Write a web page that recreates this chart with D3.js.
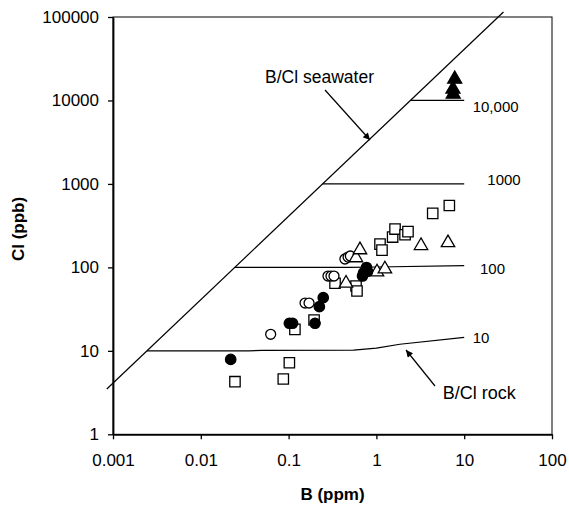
<!DOCTYPE html>
<html>
<head>
  <meta charset="UTF-8">
  <title>B vs Cl</title>
  <script src="https://d3js.org/d3.v7.min.js"></script>
  <style>
    body { margin: 0; background: #fff; }
    text { font-family: "Liberation Sans", Arial, sans-serif; fill: #000; }
  </style>
</head>
<body>
  <svg width="569" height="508"></svg>

  <script>
    // Data: [B (ppm), Cl (ppb)]
    const filledCircles = [
      [0.0219, 7.9], [0.102, 21.4], [0.111, 21.4], [0.200, 21.4],
      [0.224, 33.8], [0.248, 43.3], [0.713, 85.7], [0.771, 99.7],
      [0.792, 89.3], [0.695, 78.8]
    ];
    const openCircles = [
      [0.0625, 15.8], [0.154, 37.4], [0.171, 37.4], [0.281, 78.8],
      [0.304, 78.8], [0.329, 78.8], [0.438, 126], [0.476, 133], [0.505, 137]
    ];
    const openSquares = [
      [0.0245, 4.27], [0.102, 7.2], [0.087, 4.6], [0.118, 18.1],
      [0.195, 23.4], [0.338, 64.5], [0.586, 59.8], [0.601, 52.1],
      [1.099, 190], [1.158, 161], [1.53, 231], [1.63, 288],
      [2.12, 246], [2.29, 268], [4.38, 444], [6.77, 551]
    ];
    const openTriangles = [
      [0.451, 64.5], [0.586, 130], [0.650, 162], [1.016, 88],
      [1.25, 95.7], [3.22, 182], [6.54, 197]
    ];
    const filledTriangles = [
      [7.8, 18000], [7.45, 13700], [7.5, 11900]
    ];

    // Seawater B/Cl line: Cl = k * B
    const seawaterK = 4100;
    const seawaterB = [0.00085, 28];

    // Mixing lines (start on the seawater line)
    const mixLines = [
      { label: "10,000", pts: [[10000 / seawaterK, 10000], [10, 10000]] },
      { label: "1000", pts: [[1000 / seawaterK, 1000], [10, 1000]] },
      { label: "100", pts: [[100 / seawaterK, 100], [0.5, 100], [1, 101], [10, 105]] },
      { label: "10", pts: [[10 / seawaterK, 10], [0.035, 10], [0.05, 10.15], [0.55, 10.2], [1, 10.8], [1.85, 12], [10, 14.5]] }
    ];

    const xTicks = [0.001, 0.01, 0.1, 1, 10, 100];
    const xTickLabels = ["0.001", "0.01", "0.1", "1", "10", "100"];
    const yTicks = [1, 10, 100, 1000, 10000, 100000];

    const margin = { top: 17, right: 17, bottom: 73.7, left: 113 };
    const W = 569, H = 508;
    const width = W - margin.left - margin.right;
    const height = H - margin.top - margin.bottom;

    const svg = d3.select("svg");
    const g = svg.append("g").attr("transform", `translate(${margin.left}, ${margin.top})`);

    const x = d3.scaleLog().domain([0.001, 100]).range([0, width]);
    const y = d3.scaleLog().domain([1, 100000]).range([height, 0]);

    // arrow marker
    svg.append("defs").append("marker")
      .attr("id", "arrow")
      .attr("viewBox", "0 0 10 10")
      .attr("refX", 10).attr("refY", 5)
      .attr("markerWidth", 9).attr("markerHeight", 7)
      .attr("markerUnits", "userSpaceOnUse")
      .attr("orient", "auto")
      .append("path").attr("d", "M0,0 L10,5 L0,10 z").attr("fill", "#000");

    // frame (top / right)
    g.append("rect")
      .attr("width", width).attr("height", height)
      .attr("fill", "none").attr("stroke", "#000").attr("stroke-width", 1);

    // axes
    const xAxis = d3.axisBottom(x).tickValues(xTicks)
      .tickFormat((d, i) => xTickLabels[i]).tickSize(5).tickSizeOuter(0).tickPadding(15);
    const yAxis = d3.axisLeft(y).tickValues(yTicks)
      .tickFormat(d3.format("d")).tickSize(5).tickSizeOuter(0).tickPadding(9);

    const gx = g.append("g").attr("transform", `translate(0, ${height})`).call(xAxis);
    const gy = g.append("g").call(yAxis);
    [gx, gy].forEach(a => {
      a.select(".domain").attr("stroke-width", 1.8);
      a.selectAll(".tick line").attr("stroke-width", 1.3);
      a.selectAll(".tick text").style("font-size", "17px")
        .style("font-family", '"Liberation Sans", Arial, sans-serif');
    });

    const line = d3.line().x(d => x(d[0])).y(d => y(d[1]));

    // seawater line (extends slightly beyond frame)
    g.append("path")
      .datum(seawaterB.map(b => [b, b * seawaterK]))
      .attr("d", line).attr("fill", "none").attr("stroke", "#000").attr("stroke-width", 1.2);

    // mixing lines
    mixLines.forEach(m => {
      g.append("path").datum(m.pts).attr("d", line)
        .attr("fill", "none").attr("stroke", "#000").attr("stroke-width", 1.2);
    });

    // mixing line labels
    const labelPos = {
      "10,000": [359.7, 94.5],
      "1000": [374.3, 168],
      "100": [367, 256.5],
      "10": [359.7, 326]
    };
    mixLines.forEach(m => {
      g.append("text")
        .attr("x", labelPos[m.label][0]).attr("y", labelPos[m.label][1])
        .style("font-size", "15px").text(m.label);
    });

    // annotations
    g.append("text").attr("x", 261).attr("y", 66.3)
      .attr("text-anchor", "end").style("font-size", "17.5px").text("B/Cl seawater");
    g.append("line")
      .attr("x1", 212).attr("y1", 73).attr("x2", 257).attr("y2", 123)
      .attr("stroke", "#000").attr("stroke-width", 1.2).attr("marker-end", "url(#arrow)");

    g.append("text").attr("x", 329.7).attr("y", 382.3)
      .style("font-size", "18px").text("B/Cl rock");
    g.append("line")
      .attr("x1", 322).attr("y1", 369).attr("x2", 293).attr("y2", 333)
      .attr("stroke", "#000").attr("stroke-width", 1.2).attr("marker-end", "url(#arrow)");

    // markers
    const sym = (type, size) => d3.symbol().type(type).size(size)();
    function plot(data, type, size, filled) {
      g.selectAll(null).data(data).enter().append("path")
        .attr("transform", d => `translate(${x(d[0])}, ${y(d[1])})`)
        .attr("d", sym(type, size))
        .attr("fill", filled ? "#000" : "#fff")
        .attr("stroke", "#000").attr("stroke-width", 1.3);
    }
    plot(openSquares, d3.symbolSquare, 108, false);
    plot(openCircles, d3.symbolCircle, 78, false);
    plot(openTriangles, d3.symbolTriangle, 78, false);
    plot(filledCircles, d3.symbolCircle, 85, true);
    plot(filledTriangles, d3.symbolTriangle, 85, true);

    // axis titles
    g.append("text")
      .attr("x", width / 2).attr("y", 483)
      .attr("text-anchor", "middle")
      .style("font-size", "17px").style("font-weight", "bold")
      .text("B (ppm)");
    g.append("text")
      .attr("transform", "rotate(-90)")
      .attr("x", -212).attr("y", -89)
      .attr("text-anchor", "middle")
      .style("font-size", "17px").style("font-weight", "bold")
      .text("Cl (ppb)");
  </script>
</body>
</html>
